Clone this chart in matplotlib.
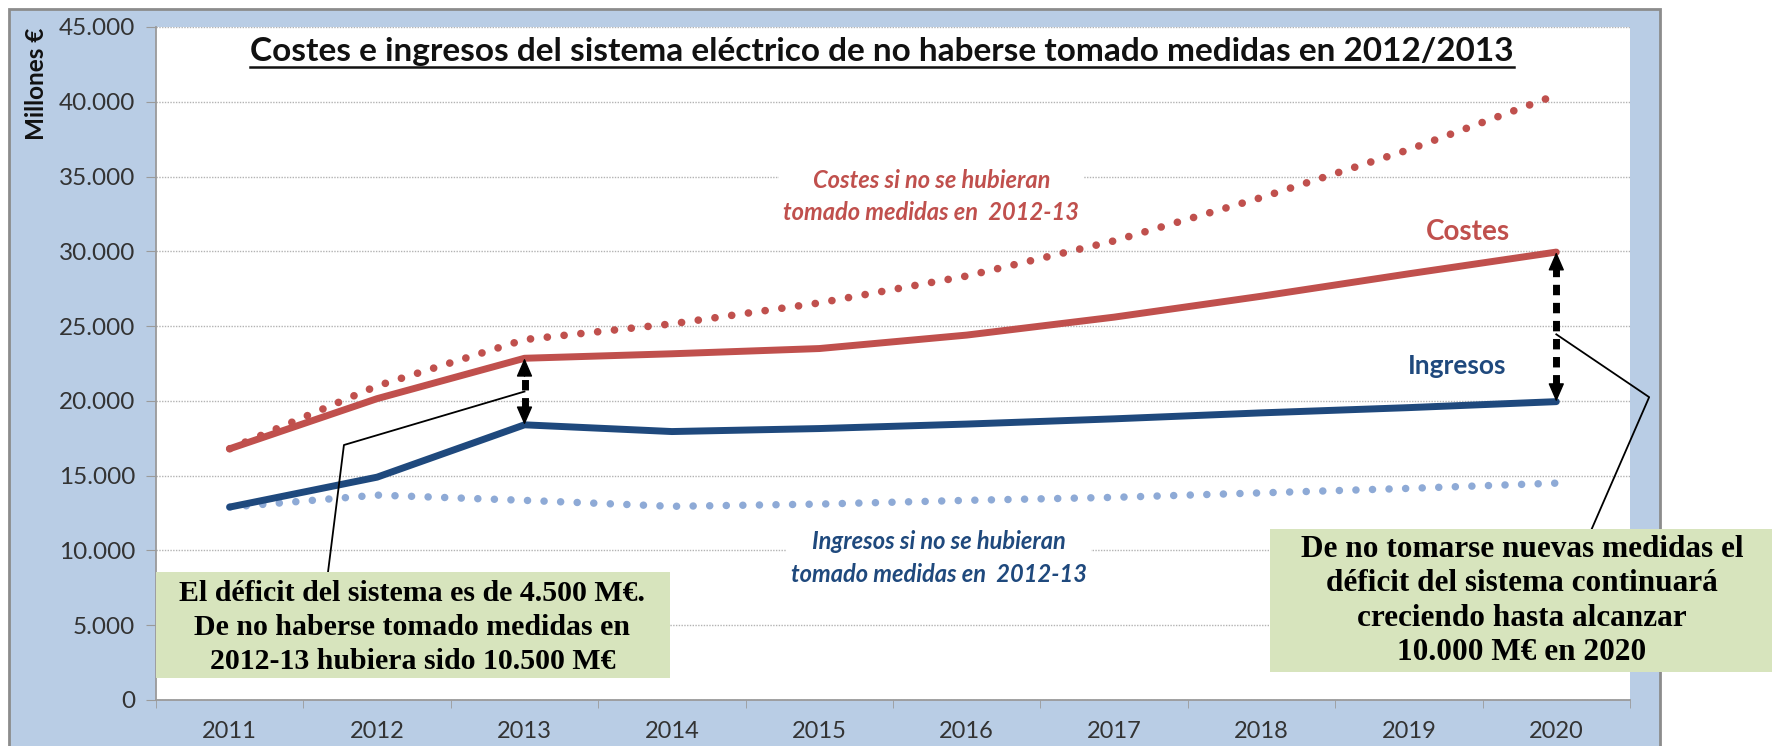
import numpy as np
import matplotlib
matplotlib.use('Agg')
import matplotlib.pyplot as plt
from matplotlib.patches import Rectangle
from matplotlib.lines import Line2D
from matplotlib.ticker import FuncFormatter, FixedLocator

# data (millones de euros)
years = ['2011', '2012', '2013', '2014', '2015', '2016', '2017', '2018', '2019', '2020']
costes = [16800, 20150, 22850, 23150, 23500, 24400, 25600, 27000, 28500, 29950]
ingresos = [12900, 14900, 18400, 17950, 18150, 18450, 18800, 19200, 19550, 19950]
costes_sin = [16800, 21000, 24100, 25150, 26550, 28350, 30700, 33600, 36800, 40450]
ingresos_sin = [12900, 13700, 13350, 12950, 13100, 13350, 13550, 13850, 14150, 14500]
yticks = list(range(0, 45001, 5000))

RED = '#c0504d'
BLUE = '#1f497d'
LBLUE = '#8eaad6'
FONT = ['Lato', 'DejaVu Sans']
SERIF = ['Liberation Serif', 'DejaVu Serif']

W, H = 1772, 746
fig = plt.figure(figsize=(W / 100, H / 100), dpi=100)
fig.patch.set_facecolor('white')

# light blue chart frame
frame = Rectangle((9 / W, -0.02), (1660 - 9) / W, (H - 9) / H + 0.02, transform=fig.transFigure,
                  facecolor='#b9cde5', edgecolor='#8c8c8c', lw=2, zorder=-1)
fig.add_artist(frame)

ax = fig.add_axes([156 / W, 46 / H, (1630 - 156) / W, (719 - 46) / H])
ax.set_facecolor('white')
x = np.arange(len(years))

dots = (0, (0.01, 2.2))
ax.plot(x, costes_sin, color=RED, ls=dots, lw=5.5, dash_capstyle='round', zorder=3)
ax.plot(x, ingresos_sin, color=LBLUE, ls=dots, lw=5.4, dash_capstyle='round', zorder=3)
ax.plot(x, costes, color=RED, lw=5, solid_capstyle='round', solid_joinstyle='round', zorder=4)
ax.plot(x, ingresos, color=BLUE, lw=5, solid_capstyle='round', solid_joinstyle='round', zorder=4)

ax.set_xlim(-0.5, len(years) - 0.5)
ax.set_ylim(0, 45000)
ax.yaxis.set_major_locator(FixedLocator(yticks))
ax.yaxis.set_major_formatter(FuncFormatter(lambda v, p: f'{v:,.0f}'.replace(',', '.')))
ax.set_xticks(x)
ax.set_xticklabels(years)
ax.set_xticks(np.arange(-0.5, len(years)), minor=True)
ax.grid(axis='y', color='#b3b3b3', ls=(0, (1, 1)), lw=1)
ax.set_axisbelow(True)
for s in ['top', 'right']:
    ax.spines[s].set_visible(False)
for s in ['left', 'bottom']:
    ax.spines[s].set_color('#9a9a9a')
    ax.spines[s].set_linewidth(1.3)
ax.tick_params(axis='y', direction='out', length=7, color='#9a9a9a', pad=8, labelsize=17.5, labelcolor='#333333')
ax.tick_params(axis='x', which='major', length=0, pad=15, labelsize=17, labelcolor='#333333')
ax.tick_params(axis='x', which='minor', direction='out', length=6, color='#9a9a9a')
for lab in ax.get_xticklabels() + ax.get_yticklabels():
    lab.set_family(FONT)

# deficit arrows at 2013 and 2020
for i in [2, 9]:
    top, bot = costes[i], ingresos[i]
    ax.plot([i, i], [bot + 1100, top - 1100], color='black', lw=5, ls=(0, (1.5, 1.1)),
            solid_capstyle='butt', dash_capstyle='butt', zorder=6)
    for a, b in [(top, top - 1200), (bot, bot + 1200)]:
        ax.annotate('', xy=(i, a), xytext=(i, b), zorder=6,
                    arrowprops=dict(arrowstyle='-|>,head_width=0.5,head_length=1.15', color='black',
                                    lw=1, shrinkA=0, shrinkB=0))

# callout lines
mid13 = (costes[2] + ingresos[2]) / 2
mid20 = (costes[9] + ingresos[9]) / 2
ax.plot([0.667, 0.775, 2.0], [8560, 17050, mid13], color='black', lw=1.3, zorder=5, clip_on=False)
ax.plot([9.24, 9.63, 9.0], [11430, 20250, mid20 - 500], color='black', lw=1.3, zorder=5, clip_on=False)

# series labels
ax.text(4.76, 33650, 'Costes si no se hubieran\ntomado medidas en  2012-13', color=RED, family=FONT,
        style='italic', weight='bold', fontsize=17, ha='center', va='center', linespacing=1.5,
        bbox=dict(facecolor='white', edgecolor='none', pad=3), zorder=5)
ax.text(4.81, 9500, 'Ingresos si no se hubieran\ntomado medidas en  2012-13', color=BLUE, family=FONT,
        style='italic', weight='bold', fontsize=17, ha='center', va='center', linespacing=1.5,
        bbox=dict(facecolor='white', edgecolor='none', pad=3), zorder=5)
ax.text(8.40, 31300, 'Costes', color=RED, family=FONT, weight='bold', fontsize=20, ha='center', va='center')
ax.text(8.33, 22300, 'Ingresos', color=BLUE, family=FONT, weight='bold', fontsize=19, ha='center', va='center')

# left green box
ax.add_patch(Rectangle((-0.5, 1470), 3.487, 8560 - 1470, facecolor='#d7e4bd', edgecolor='none', zorder=6, clip_on=False))
ax.text(1.24, 4850, 'El déficit del sistema es de 4.500 M€.\nDe no haberse tomado medidas en\n2012-13 hubiera sido 10.500 M€',
        family=SERIF, weight='bold', fontsize=21.5, ha='center', va='center', linespacing=1.35, zorder=7)

# right green box
fig.add_artist(Rectangle((1270 / W, 1 - 672 / H), (W - 1270) / W, (672 - 529) / H, transform=fig.transFigure,
                         facecolor='#d7e4bd', edgecolor='none', zorder=8))
fig.text(1522 / W, 1 - 601 / H, 'De no tomarse nuevas medidas el\ndéficit del sistema continuará\ncreciendo hasta alcanzar\n10.000 M€ en 2020',
         family=SERIF, weight='bold', fontsize=22.5, ha='center', va='center', linespacing=1.25, zorder=9)

# title (underlined) and y label
t = fig.text(882 / W, 1 - 51 / H, 'Costes e ingresos del sistema eléctrico de no haberse tomado medidas en 2012/2013',
             family=FONT, weight='bold', fontsize=24, ha='center', va='center', color='#111111')
fig.text(37 / W, 1 - 28 / H, 'Millones €', family=FONT, weight='bold', fontsize=17.5, rotation=90,
         ha='center', va='top', color='#111111')

fig.canvas.draw()
bb = t.get_window_extent()
fig.add_artist(Line2D([bb.x0 / W, bb.x1 / W], [(H - 67) / H, (H - 67) / H], transform=fig.transFigure,
                      color='#111111', lw=1.8))

plt.savefig('out.png', dpi=100)
